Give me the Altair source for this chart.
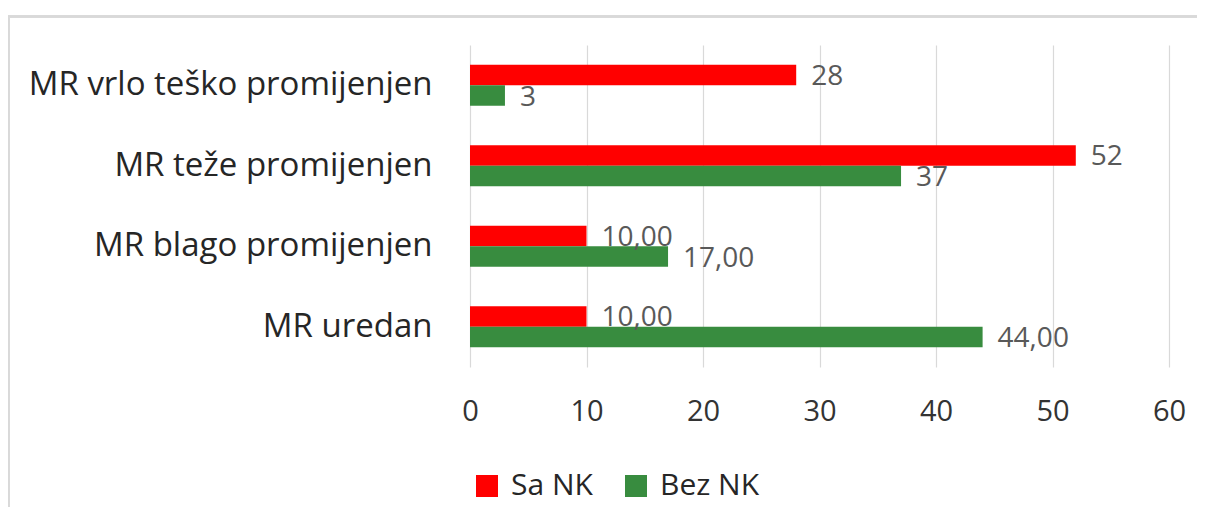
import altair as alt
import pandas as pd

categories = ["MR vrlo teško promijenjen", "MR teže promijenjen", "MR blago promijenjen", "MR uredan"]
series = ["Sa NK", "Bez NK"]
sa_nk = [28, 52, 10, 10]
bez_nk = [3, 37, 17, 44]
sa_nk_labels = ["28", "52", "10,00", "10,00"]
bez_nk_labels = ["3", "37", "17,00", "44,00"]
colors = ["#FF0000", "#388C3F"]
x_ticks = [0, 10, 20, 30, 40, 50, 60]

rows = []
for i, c in enumerate(categories):
    rows.append({"cat": c, "series": "Sa NK", "value": sa_nk[i], "label": sa_nk_labels[i]})
    rows.append({"cat": c, "series": "Bez NK", "value": bez_nk[i], "label": bez_nk_labels[i]})
df = pd.DataFrame(rows)

FONT = "Open Sans"
W, H = 699, 322

y_enc = alt.Y("cat:N", sort=categories, title=None,
              scale=alt.Scale(paddingInner=0.49, paddingOuter=0.245),
              axis=alt.Axis(domain=False, ticks=False, grid=False, labelFontSize=33,
                            labelColor="#262626", labelPadding=38, labelFont=FONT,
                            labelLimit=600))
yoff = alt.YOffset("series:N", sort=series, scale=alt.Scale(domain=series, paddingInner=0, paddingOuter=0))

bars = alt.Chart(df).mark_bar().encode(
    y=y_enc,
    yOffset=yoff,
    x=alt.X("value:Q", title=None,
            scale=alt.Scale(domain=[0, 60], nice=False),
            axis=alt.Axis(values=x_ticks, domain=False, ticks=False, grid=True,
                          gridColor="#D9D9D9", gridWidth=1.2, labelFontSize=29,
                          labelColor="#333333", labelPadding=30, labelFont=FONT,
                          labelFlush=False)),
    color=alt.Color("series:N", sort=series,
                    scale=alt.Scale(domain=series, range=colors),
                    legend=alt.Legend(title=None, orient="none", direction="horizontal",
                                      legendX=2, legendY=426, symbolType="square",
                                      symbolSize=484, symbolStrokeWidth=0,
                                      labelFontSize=30, labelFont=FONT, labelColor="#262626",
                                      labelOffset=9, columnPadding=28, padding=0)),
)

texts = alt.Chart(df).mark_text(align="left", baseline="middle", dx=15, dy=2,
                                fontSize=28, font=FONT, color="#595959").encode(
    y=alt.Y("cat:N", sort=categories),
    yOffset=yoff,
    x=alt.X("value:Q"),
    text="label:N",
)

border_top = alt.Chart(df).mark_rule(color="#D9D9D9", strokeWidth=2).encode(
    x=alt.value(-462), x2=alt.value(760), y=alt.value(-28.5))
border_left = alt.Chart(df).mark_rule(color="#D9D9D9", strokeWidth=2).encode(
    x=alt.value(-461.5), y=alt.value(-29.5), y2=alt.value(480))

chart = alt.layer(bars, texts, border_top, border_left).properties(
    width=W, height=H,
    autosize=alt.AutoSizeParams(type="none"),
    padding={"left": 462, "top": 37, "right": 28, "bottom": 140},
).configure(background="white", view=alt.ViewConfig(stroke=None))

chart.save("out.html", embed_options={"renderer": "svg", "actions": False})
